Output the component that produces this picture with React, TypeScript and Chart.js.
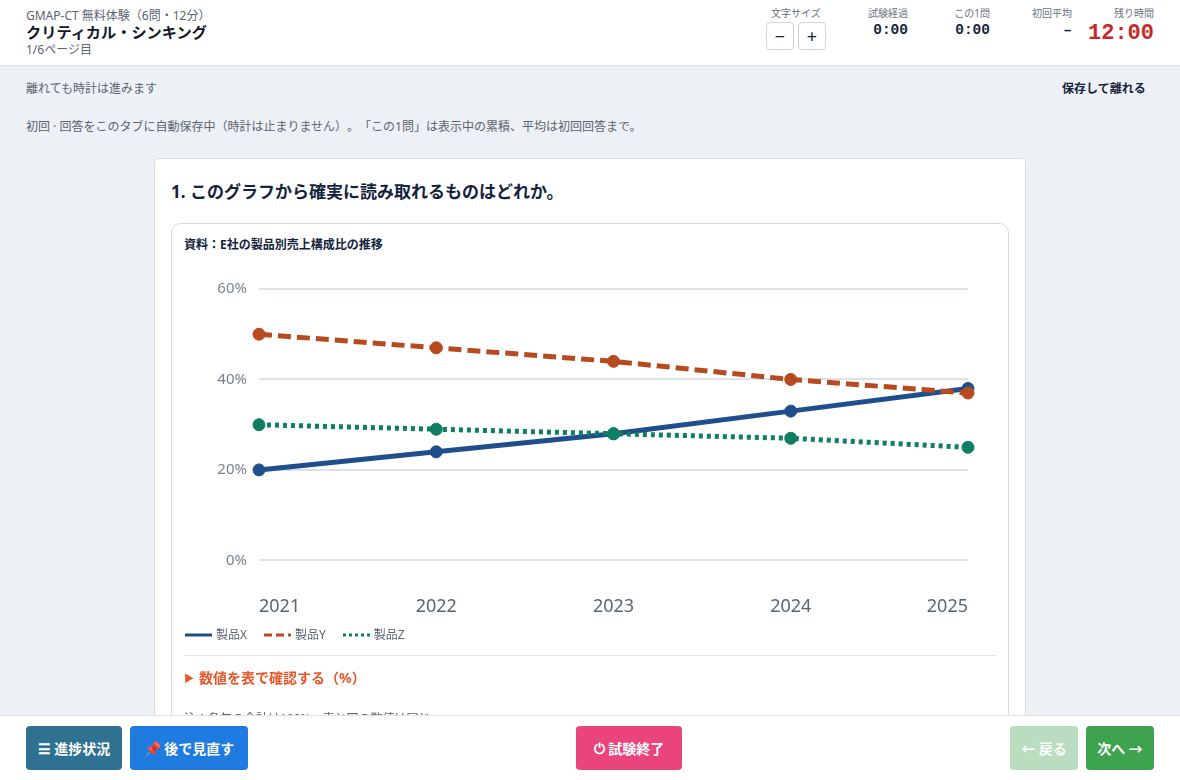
import React, { useEffect, useRef } from "react";
import { Chart, registerables } from "chart.js";

Chart.register(...registerables);

const years = ["2021", "2022", "2023", "2024", "2025"];
const productX = [20, 24, 28, 33, 38];
const productY = [50, 47, 44, 40, 37];
const productZ = [30, 29, 28, 27, 25];
const yTicks = [0, 20, 40, 60];

const seriesNames = ["製品X", "製品Y", "製品Z"];
const seriesColors = ["#1f4e8c", "#b84a1f", "#0f7f63"];
const seriesDashes: number[][] = [[], [13, 6], [4, 4]];

const FONT = '"Noto Sans", "Noto Sans CJK JP", sans-serif';
const MONO = '"Liberation Mono", monospace';

const abs = (left: number, top: number, extra: React.CSSProperties = {}): React.CSSProperties => ({
  position: "absolute",
  left,
  top,
  whiteSpace: "nowrap",
  ...extra,
});

function Stat({ label, value, right, valueRight, top = 27, big }: { label: string; value: string; right: number; valueRight: number; top?: number; big?: boolean }) {
  return (
    <>
      <div style={{ position: "absolute", right, top: 6, fontSize: 10, lineHeight: "15px", color: "#6b7280", whiteSpace: "nowrap" }}>{label}</div>
      <div
        style={{
          position: "absolute",
          right: valueRight,
          top,
          fontFamily: MONO,
          fontWeight: 700,
          fontSize: big ? 22 : 14.5,
          lineHeight: big ? "28px" : "17px",
          color: big ? "#c62828" : "#14233c",
          whiteSpace: "nowrap",
        }}
      >
        {value}
      </div>
    </>
  );
}

function Btn({ left, width, bg, color = "#fff", children }: { left: number; width: number; bg: string; color?: string; children: React.ReactNode }) {
  return (
    <div
      style={{
        position: "absolute",
        left,
        top: 726,
        width,
        height: 44,
        background: bg,
        color,
        borderRadius: 4,
        display: "flex",
        alignItems: "center",
        justifyContent: "center",
        fontSize: 14,
        fontWeight: 700,
        whiteSpace: "nowrap",
        gap: 4,
      }}
    >
      {children}
    </div>
  );
}

export default function App() {
  const ref = useRef<HTMLCanvasElement | null>(null);

  useEffect(() => {
    document.body.style.margin = "0";
    document.body.style.overflow = "hidden";
    const chart = new Chart(ref.current!, {
      type: "line",
      data: {
        labels: years,
        datasets: [productX, productY, productZ].map((data, i) => ({
          label: seriesNames[i],
          data,
          order: 3 - i,
          borderColor: seriesColors[i],
          backgroundColor: seriesColors[i],
          borderWidth: 5,
          borderDash: seriesDashes[i],
          pointRadius: 6,
          pointHoverRadius: 6,
          pointBackgroundColor: seriesColors[i],
          pointBorderColor: seriesColors[i],
          pointBorderWidth: 1,
          tension: 0,
          fill: false,
        })),
      },
      options: {
        responsive: false,
        animation: false,
        layout: { padding: { top: 0, right: 4, bottom: 0, left: 0 } },
        plugins: { legend: { display: false }, title: { display: false }, tooltip: { enabled: false } },
        scales: {
          x: {
            type: "category",
            offset: false,
            grid: { display: false },
            border: { display: false },
            ticks: { color: "#5b6472", font: { size: 18, family: FONT }, align: "inner", maxRotation: 0, padding: 28 },
          },
          y: {
            min: 0,
            max: 60,
            grid: { color: "#dde1ea", lineWidth: 2, drawTicks: false },
            border: { display: false },
            afterBuildTicks: (axis: any) => {
              axis.ticks = yTicks.map((value) => ({ value }));
            },
            afterFit: (axis: any) => {
              axis.width = 75;
            },
            ticks: {
              color: "#7b8190",
              font: { size: 15, family: FONT },
              padding: 12,
              callback: (v: any) => `${v}%`,
            },
          },
        },
      },
    });
    return () => chart.destroy();
  }, []);

  return (
    <div style={{ position: "relative", width: 1180, height: 780, overflow: "hidden", background: "#edf0f5", fontFamily: FONT, color: "#14233c", textSpacingTrim: "space-all" } as React.CSSProperties}>
      {/* header */}
      <div style={{ position: "absolute", left: 0, top: 0, width: 1180, height: 65, background: "#fff", borderBottom: "1px solid #dfe2e7" }}>
        <div style={abs(26, 8, { fontSize: 12, lineHeight: "15px", color: "#5b6472" })}>GMAP-CT 無料体験（6問・12分）</div>
        <div style={abs(26, 22, { fontSize: 15.2, lineHeight: "20px", fontWeight: 700, color: "#111827" })}>クリティカル・シンキング</div>
        <div style={abs(26, 42, { fontSize: 12, lineHeight: "15px", color: "#5b6472" })}>1/6ページ目</div>
        <div style={abs(771, 6, { fontSize: 10, lineHeight: "15px", color: "#6b7280" })}>文字サイズ</div>
        {["−", "+"].map((s, i) => (
          <div
            key={s}
            style={{
              position: "absolute",
              left: 766 + i * 32,
              top: 22,
              width: 28,
              height: 28,
              border: "1px solid #cfd3d9",
              borderRadius: 4,
              background: "#fff",
              display: "flex",
              alignItems: "center",
              justifyContent: "center",
              fontSize: 18,
              color: "#14233c",
              boxSizing: "border-box",
            }}
          >
            {s}
          </div>
        ))}
        <Stat label="試験経過" value="0:00" right={272} valueRight={272} top={22} />
        <Stat label="この1問" value="0:00" right={190} valueRight={190} top={22} />
        <Stat label="初回平均" value="–" right={108} valueRight={108} top={22} />
        <Stat label="残り時間" value="12:00" right={26} valueRight={26} top={20} big />
      </div>

      {/* notices */}
      <div style={abs(26, 80, { fontSize: 12, lineHeight: "17px", color: "#5b6472" })}>離れても時計は進みます</div>
      <div style={abs(1062, 80, { fontSize: 12, lineHeight: "17px", fontWeight: 700, color: "#14233c" })}>保存して離れる</div>
      <div style={abs(26, 118, { fontSize: 12, lineHeight: "17px", color: "#5b6472" })}>初回 · 回答をこのタブに自動保存中（時計は止まりません）。「この1問」は表示中の累積、平均は初回回答まで。</div>

      {/* question card */}
      <div style={{ position: "absolute", left: 154, top: 158, width: 872, height: 640, boxSizing: "border-box", background: "#fff", border: "1px solid #d8dbe0", borderRadius: 4 }} />
      <div style={abs(171, 181, { fontSize: 17, lineHeight: "22px", fontWeight: 700, color: "#14233c" })}>1. このグラフから確実に読み取れるものはどれか。</div>

      {/* chart card */}
      <div style={{ position: "absolute", left: 171, top: 223, width: 838, height: 560, boxSizing: "border-box", background: "#fff", border: "1px solid #d8dbe0", borderRadius: 10 }} />
      <div style={abs(184, 237, { fontSize: 12, lineHeight: "16px", fontWeight: 700, color: "#14233c" })}>資料：E社の製品別売上構成比の推移</div>
      <div style={{ position: "absolute", left: 184, top: 268 }}>
        <canvas ref={ref} width={812} height={378} style={{ display: "block", width: 812, height: 378 }} />
      </div>

      {/* legend */}
      <div style={abs(185, 627, { display: "flex", alignItems: "center", gap: 17, fontSize: 12, lineHeight: "16px", color: "#5b6472" })}>
        {seriesNames.map((name, i) => (
          <span key={name} style={{ display: "inline-flex", alignItems: "center", gap: 4 }}>
            <svg width={27} height={4} style={{ display: "block" }}>
              <line x1={0} y1={2} x2={27} y2={2} stroke={seriesColors[i]} strokeWidth={3} strokeDasharray={i === 1 ? "8 4" : i === 2 ? "3 3" : undefined} />
            </svg>
            {name}
          </span>
        ))}
      </div>
      <div style={{ position: "absolute", left: 184, top: 655, width: 812, height: 1, background: "#e3e5e9" }} />
      <div style={abs(184, 669, { fontSize: 14, lineHeight: "18px", fontWeight: 700, color: "#e8562a" })}>
        <span style={{ fontSize: 10, marginRight: 5, position: "relative", top: -1 }}>▶</span>数値を表で確認する（%）
      </div>
      <div style={abs(184, 710, { fontSize: 12, lineHeight: "17px", color: "#5b6472" })}>注：各年の合計は100%。表と図の数値は同じ。</div>

      {/* footer */}
      <div style={{ position: "absolute", left: 0, top: 715, width: 1180, height: 65, background: "#fff", borderTop: "1px solid #dfe2e7", boxSizing: "border-box" }} />
      <Btn left={26} width={96} bg="#2f7190">☰ 進捗状況</Btn>
      <Btn left={130} width={118} bg="#1f7be0">📌 後で見直す</Btn>
      <Btn left={576} width={106} bg="#ea447c">⏻ 試験終了</Btn>
      <Btn left={1010} width={68} bg="#badcbf">← 戻る</Btn>
      <Btn left={1086} width={68} bg="#3da34f">次へ →</Btn>
    </div>
  );
}
